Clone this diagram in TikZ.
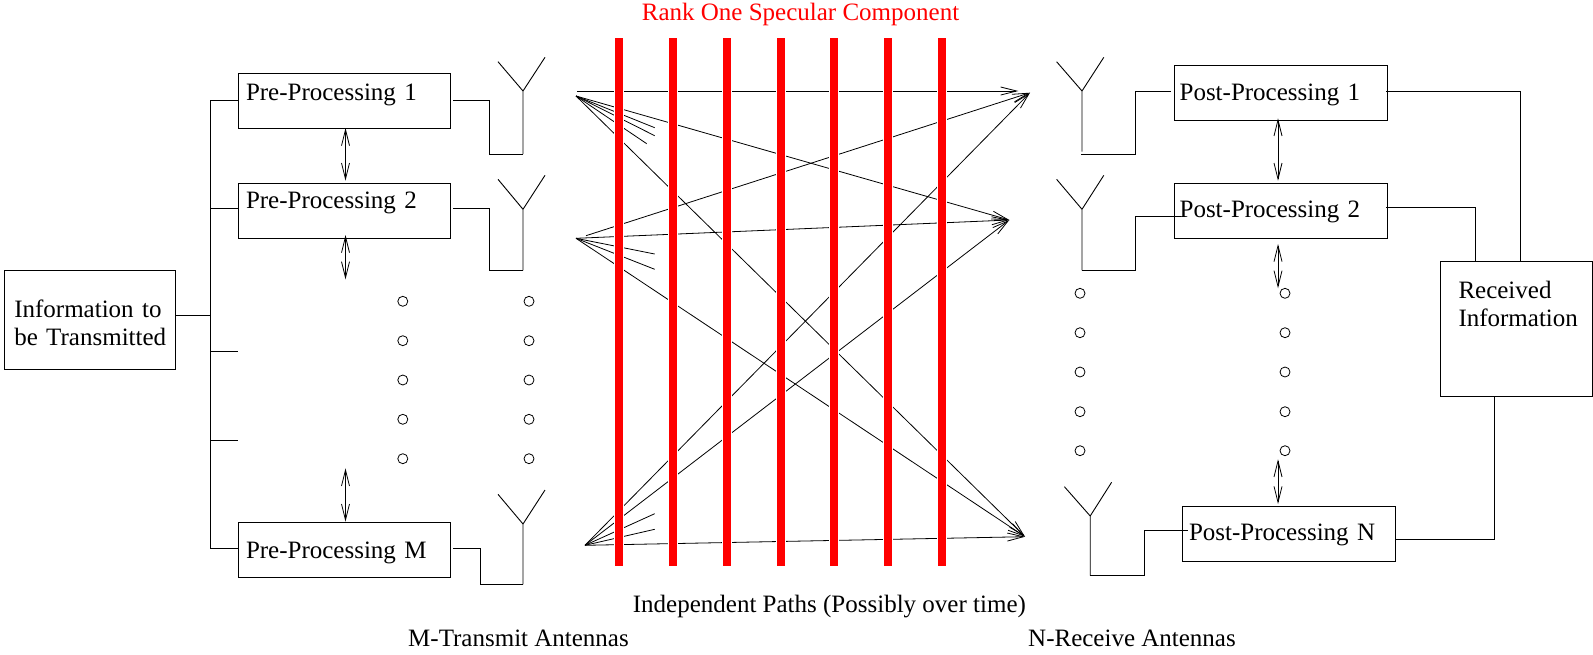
\documentclass[tikz,border=0pt]{standalone}
\usepackage{fontspec}
\setmainfont{Liberation Serif}
\usetikzlibrary{arrows.meta}
\tikzset{
	procbox/.style 2 args={draw,anchor=north west,inner ysep=0pt,outer sep=0pt,text height=#1pt,text depth=#2pt,align=left},
	wire/.style={line width=0.9pt},
	duplex/.style={<->,>={Straight Barb[length=16pt,width=8pt]},line width=0.8pt},
	ray/.style={->,>={Straight Barb[length=16pt,width=8pt]},line width=0.8pt},
	shortray/.style={line width=0.8pt},
	redbar/.style={draw=red,line width=8pt,preaction={draw=white,line width=10pt}},
	plainlabel/.style={anchor=base west,inner sep=0pt}
}
\begin{document}
\begin{tikzpicture}[x=1pt,y=-1pt,font=\fontsize{25}{28}\selectfont]
	\useasboundingbox (0,0) rectangle (1593,654);

	% boxes
	\node[procbox={47}{52},inner xsep=9.7pt,text width=151pt] (info) at (4.6,270) {Information to\\\mbox{be Transmitted}};
	\node[procbox={27.8}{27.5},inner xsep=8pt,text width=196pt] (pre1) at (238,72.7) {Pre-Processing 1};
	\node[procbox={24.7}{30.3},inner xsep=8pt,text width=196pt] (pre2) at (238,183.3) {Pre-Processing 2};
	\node[procbox={36.3}{18.7},inner xsep=8pt,text width=196pt] (prem) at (238,521.7) {Pre-Processing M};
	\node[procbox={35.3}{19.7},inner xsep=5.3pt,text width=202.6pt] (post1) at (1174.3,65) {Post-Processing 1};
	\node[procbox={34.4}{20.6},inner xsep=5.3pt,text width=202.6pt] (post2) at (1174.3,183.3) {Post-Processing 2};
	\node[procbox={34.6}{20.7},inner xsep=6.5pt,text width=199.8pt] (postn) at (1182.5,505.7) {Post-Processing N};
	\node[procbox={37.4}{97.3},inner xsep=18.5pt,text width=115.6pt] (recv) at (1440,261.3) {Received\\Information};

	% feed lines on the left
	\coordinate (trunk1) at (210.5,100);
	\coordinate (trunk2) at (210.5,208);
	\coordinate (trunk3) at (210.5,315.3);
	\coordinate (trunk4) at (210.5,351.3);
	\coordinate (trunk5) at (210.5,440.7);
	\coordinate (trunk6) at (210.5,548.7);
	\coordinate (stub4) at (238,351.3);
	\coordinate (stub5) at (238,440.7);
	\draw[wire] (trunk1) -- (trunk6);
	\draw[wire] (trunk1) -- (trunk1 -| pre1.west);
	\draw[wire] (trunk2) -- (trunk2 -| pre2.west);
	\draw[wire] (info.east |- trunk3) -- (trunk3);
	\draw[wire] (trunk4) -- (stub4);
	\draw[wire] (trunk5) -- (stub5);
	\draw[wire] (trunk6) -- (trunk6 -| prem.west);

	% transmit antennas
	\coordinate (ant1) at (523,91);
	\coordinate (ant1l) at (498,61.7);
	\coordinate (ant1r) at (545,57.3);
	\coordinate (foot1) at (523,154);
	\coordinate (out1) at (453.3,100);
	\coordinate (bend1) at (489,154);
	\coordinate (ant2) at (523,209.3);
	\coordinate (ant2l) at (498,179.3);
	\coordinate (ant2r) at (545,175.3);
	\coordinate (foot2) at (523,270.3);
	\coordinate (out2) at (453.3,208);
	\coordinate (bend2) at (489,270.3);
	\coordinate (antm) at (523,524);
	\coordinate (antml) at (498,494.3);
	\coordinate (antmr) at (545,490);
	\coordinate (footm) at (523,584.3);
	\coordinate (outm) at (453.3,548.7);
	\coordinate (bendm) at (480,584.3);
	\draw[wire] (ant1l) -- (ant1) -- (ant1r) (ant1) -- (foot1);
	\draw[wire] (out1) -| (bend1) -- (foot1);
	\draw[wire] (ant2l) -- (ant2) -- (ant2r) (ant2) -- (foot2);
	\draw[wire] (out2) -| (bend2) -- (foot2);
	\draw[wire] (antml) -- (antm) -- (antmr) (antm) -- (footm);
	\draw[wire] (outm) -| (bendm) -- (footm);

	% receive antennas
	\coordinate (rant1) at (1082,91);
	\coordinate (rant1l) at (1056.6,61.7);
	\coordinate (rant1r) at (1103.8,57.3);
	\coordinate (rstem1) at (1082,151.7);
	\coordinate (rfoot1) at (1081,154);
	\coordinate (rbend1) at (1135,154);
	\coordinate (rout1) at (1170.6,91);
	\coordinate (rant2) at (1082,209.3);
	\coordinate (rant2l) at (1056.6,179.3);
	\coordinate (rant2r) at (1103.8,175.3);
	\coordinate (rfoot2) at (1082,270.3);
	\coordinate (rbend2) at (1135,270.3);
	\coordinate (rout2) at (1180.5,216.7);
	\coordinate (rantn) at (1090.2,516);
	\coordinate (rantnl) at (1064.4,486.7);
	\coordinate (rantnr) at (1111.6,482.3);
	\coordinate (rfootn) at (1090.2,575.7);
	\coordinate (rbendn) at (1144,575.7);
	\coordinate (routn) at (1187.8,530.7);
	\draw[wire] (rant1l) -- (rant1) -- (rant1r) (rant1) -- (rstem1);
	\draw[wire] (rfoot1) -- (rbend1) |- (rout1);
	\draw[wire] (rant2l) -- (rant2) -- (rant2r) (rant2) -- (rfoot2);
	\draw[wire] (rfoot2) -- (rbend2) |- (rout2);
	\draw[wire] (rantnl) -- (rantn) -- (rantnr) (rantn) -- (rfootn);
	\draw[wire] (rfootn) -- (rbendn) |- (routn);

	% lines into the received box
	\coordinate (col1) at (1520.4,91);
	\coordinate (col2) at (1475.7,207.7);
	\coordinate (coln) at (1494,539.7);
	\coordinate (from1) at (1386,91);
	\coordinate (from2) at (1386,207.7);
	\draw[wire] (from1) -- (col1) -- (col1 |- recv.north);
	\draw[wire] (from2) -- (col2) -- (col2 |- recv.north);
	\draw[wire] (postn.east |- coln) -- (coln) -- (coln |- recv.south);

	% double arrows
	\coordinate (pre1a) at (345.5,128);
	\coordinate (pre1b) at (345.5,180.7);
	\coordinate (pre2a) at (345.5,235);
	\coordinate (pre2b) at (345.5,279.3);
	\coordinate (prema) at (345.5,468.3);
	\coordinate (premb) at (345.5,521.7);
	\coordinate (post1a) at (1278,118.3);
	\coordinate (post1b) at (1278,180.7);
	\coordinate (post2a) at (1278,244);
	\coordinate (post2b) at (1278,288.3);
	\coordinate (postna) at (1278,459.3);
	\coordinate (postnb) at (1278,504);
	\draw[duplex] (pre1a) -- (pre1b);
	\draw[duplex] (pre2a) -- (pre2b);
	\draw[duplex] (prema) -- (premb);
	\draw[duplex] (post1a) -- (post1b);
	\draw[duplex] (post2a) -- (post2b);
	\draw[duplex] (postna) -- (postnb);

	% small circles
	\draw[line width=0.8pt] (402.8,301.3) circle[radius=5] (402.8,340.7) circle[radius=5] (402.8,380) circle[radius=5] (402.8,419.3) circle[radius=5] (402.8,458.7) circle[radius=5];
	\draw[line width=0.8pt] (529,301.3) circle[radius=5] (529,340.7) circle[radius=5] (529,380) circle[radius=5] (529,419.3) circle[radius=5] (529,458.7) circle[radius=5];
	\draw[line width=0.8pt] (1080,293.3) circle[radius=5] (1080,332.7) circle[radius=5] (1080,372) circle[radius=5] (1080,411.7) circle[radius=5] (1080,450.7) circle[radius=5];
	\draw[line width=0.8pt] (1285,293.3) circle[radius=5] (1285,332.7) circle[radius=5] (1285,372) circle[radius=5] (1285,411.7) circle[radius=5] (1285,450.7) circle[radius=5];

	% paths between the antennas
	\coordinate (tx1) at (576,96);
	\coordinate (tx1top) at (577.3,91);
	\coordinate (tx2) at (576,238.3);
	\coordinate (tx2top) at (586,235.7);
	\coordinate (txm) at (585,545.3);
	\coordinate (rx1) at (1030,92.7);
	\coordinate (rx1top) at (1018.3,91);
	\coordinate (rx2) at (1009.3,220);
	\coordinate (rxn) at (1025,536.7);
	\coordinate (s1a) at (654.7,127.7);
	\coordinate (s1b) at (654.7,135.7);
	\coordinate (s1c) at (646.7,143.7);
	\coordinate (s2a) at (654.7,254);
	\coordinate (s2b) at (654.7,269.3);
	\coordinate (sma) at (654.7,513.7);
	\coordinate (smb) at (654.7,529.3);
	\draw[ray] (tx1top) -- (rx1top);
	\draw[ray] (tx1) -- (rx2);
	\draw[ray] (tx1) -- (rxn);
	\draw[ray] (tx2top) -- (rx1);
	\draw[ray] (tx2) -- (rx2);
	\draw[ray] (tx2) -- (rxn);
	\draw[ray] (txm) -- (rx1);
	\draw[ray] (txm) -- (rx2);
	\draw[ray] (txm) -- (rxn);
	\draw[shortray] (tx1) -- (s1a);
	\draw[shortray] (tx1) -- (s1b);
	\draw[shortray] (tx1) -- (s1c);
	\draw[shortray] (tx2) -- (s2a);
	\draw[shortray] (tx2) -- (s2b);
	\draw[shortray] (txm) -- (sma);
	\draw[shortray] (txm) -- (smb);

	% specular component
	\draw[redbar] (619,38) -- (619,566);
	\draw[redbar] (673,38) -- (673,566);
	\draw[redbar] (727,38) -- (727,566);
	\draw[redbar] (780.7,38) -- (780.7,566);
	\draw[redbar] (834.3,38) -- (834.3,566);
	\draw[redbar] (888,38) -- (888,566);
	\draw[redbar] (942,38) -- (942,566);

	% labels
	\node[plainlabel,text=red] (ranklabel) at (641.7,20) {Rank One Specular Component};
	\node[plainlabel] (pathslabel) at (632.7,612.7) {Independent Paths (Possibly over time)};
	\node[plainlabel] (txlabel) at (408,646.7) {M-Transmit Antennas};
	\node[plainlabel] (rxlabel) at (1028,646.7) {N-Receive Antennas};
\end{tikzpicture}
\end{document}
